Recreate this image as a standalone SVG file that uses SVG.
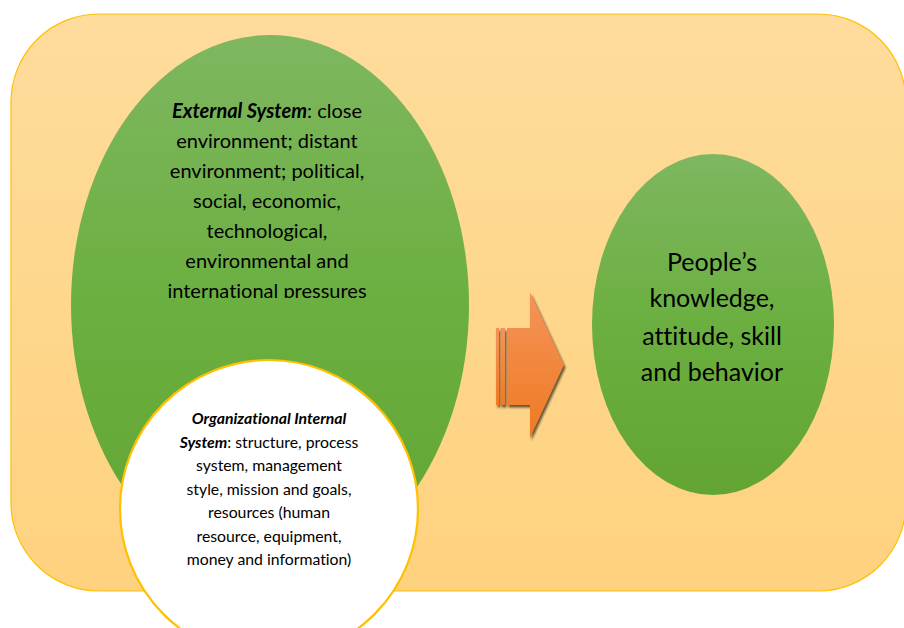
<svg xmlns="http://www.w3.org/2000/svg" width="904" height="628" viewBox="0 0 904 628">
<style>
.t{font-family:Lato,"Open Sans","Liberation Sans",sans-serif;fill:#000;text-anchor:middle;font-variant-ligatures:none}
.ext{font-size:20px}
.int{font-size:15.8px}
.ppl{font-size:25px}
</style>
<defs>
<linearGradient id="bg" x1="0" y1="0" x2="0" y2="1">
<stop offset="0" stop-color="#FEDC9C"/>
<stop offset="1" stop-color="#FED27E"/>
</linearGradient>
<linearGradient id="green" x1="0" y1="0" x2="0" y2="1">
<stop offset="0" stop-color="#7EB760"/>
<stop offset="0.5" stop-color="#6BAF40"/>
<stop offset="1" stop-color="#62A533"/>
</linearGradient>
<linearGradient id="orange" x1="0" y1="0" x2="0" y2="1">
<stop offset="0" stop-color="#F4945A"/>
<stop offset="1" stop-color="#EF7A22"/>
</linearGradient>
<filter id="sh" x="-20%" y="-20%" width="140%" height="140%">
<feGaussianBlur stdDeviation="0.8"/>
</filter>
<clipPath id="extclip"><rect x="0" y="0" width="904" height="298"/></clipPath>
</defs>

<g id="background">
<rect x="11" y="14" width="895" height="577" rx="88" ry="88" fill="url(#bg)" stroke="#FFC000" stroke-width="1.2"/>
</g>

<g id="external-system">
<ellipse cx="270" cy="305" rx="199" ry="270" fill="url(#green)"/>
<g clip-path="url(#extclip)">
<text class="t ext" x="267" y="118"><tspan font-weight="bold" font-style="italic">External System</tspan>: close</text>
<text class="t ext" x="267" y="148">environment; distant</text>
<text class="t ext" x="267" y="178">environment; political,</text>
<text class="t ext" x="267" y="208">social, economic,</text>
<text class="t ext" x="267" y="238">technological,</text>
<text class="t ext" x="267" y="268">environmental and</text>
<text class="t ext" x="267" y="298">international pressures</text>
</g>
</g>

<g id="internal-system">
<circle cx="269" cy="509" r="149" fill="#FFFFFF" stroke="#FFC000" stroke-width="2.2"/>
<text class="t int" x="269" y="424" font-weight="bold" font-style="italic">Organizational Internal</text>
<text class="t int" x="269" y="447.5"><tspan font-weight="bold" font-style="italic">System</tspan>: structure, process</text>
<text class="t int" x="269" y="471">system, management</text>
<text class="t int" x="269" y="494.5">style, mission and goals,</text>
<text class="t int" x="269" y="518">resources (human</text>
<text class="t int" x="269" y="541.5">resource, equipment,</text>
<text class="t int" x="269" y="565">money and information)</text>
</g>

<g id="connectors">
<g id="arrow">
<g filter="url(#sh)" fill="#4A3C28" opacity="0.85" transform="translate(1.5,2.5)">
<rect x="496" y="328" width="3" height="77"/>
<rect x="500.5" y="328" width="4.5" height="77"/>
<path d="M507 328 H530 V292 L564 365 L530 438 V405 H507 Z"/>
</g>
<rect x="496" y="328" width="3" height="77" fill="url(#orange)"/>
<rect x="500.5" y="328" width="4.5" height="77" fill="url(#orange)"/>
<path d="M507 328 H530 V292 L564 365 L530 438 V405 H507 Z" fill="url(#orange)"/>
</g>
</g>

<g id="outcome">
<ellipse cx="713" cy="324.5" rx="121" ry="170.5" fill="url(#green)"/>
<text class="t ppl" x="712" y="271">People’s</text>
<text class="t ppl" x="712" y="307">knowledge,</text>
<text class="t ppl" x="712" y="345">attitude, skill</text>
<text class="t ppl" x="712" y="381">and behavior</text>
</g>
</svg>
